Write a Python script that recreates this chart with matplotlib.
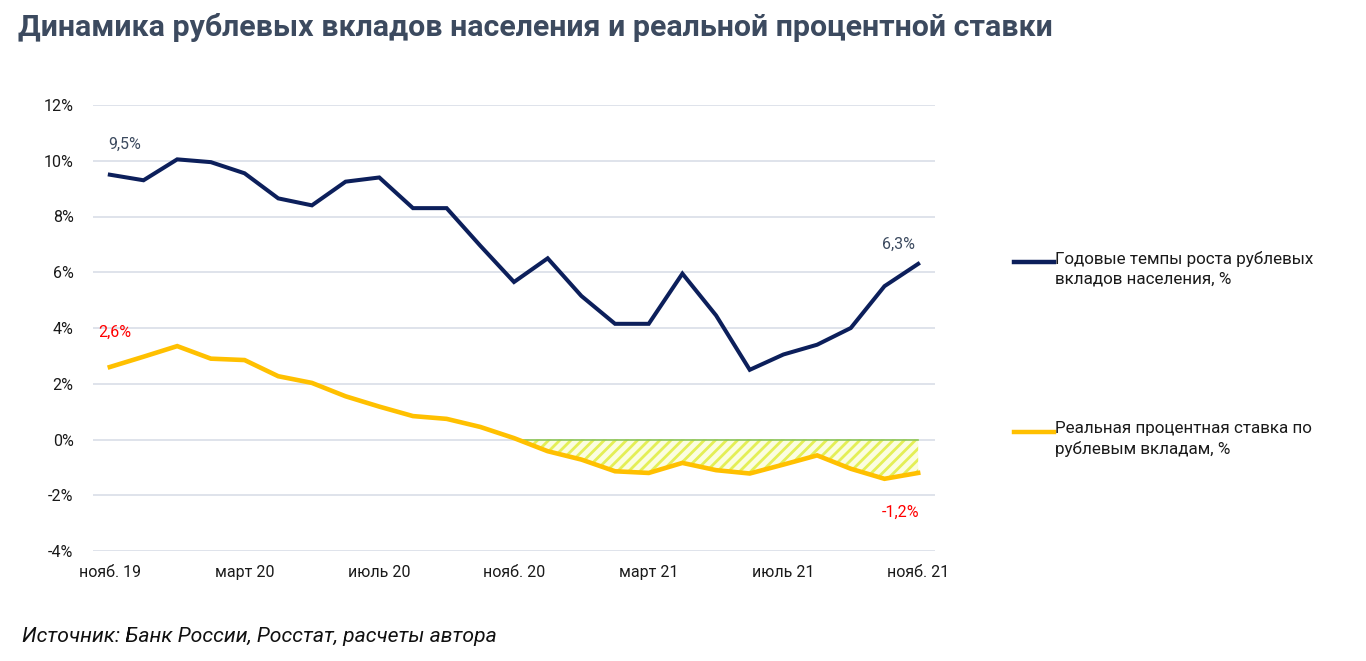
import matplotlib
matplotlib.use("Agg")
import matplotlib.pyplot as plt
from matplotlib.lines import Line2D
import matplotlib.patheffects as pe
import numpy as np

plt.rcParams['font.family'] = ['Roboto', 'DejaVu Sans']
plt.rcParams['hatch.linewidth'] = 2.0

months = ['нояб. 19', 'дек. 19', 'янв. 20', 'февр. 20', 'март 20', 'апр. 20', 'май 20',
          'июнь 20', 'июль 20', 'авг. 20', 'сент. 20', 'окт. 20', 'нояб. 20', 'дек. 20',
          'янв. 21', 'февр. 21', 'март 21', 'апр. 21', 'май 21', 'июнь 21', 'июль 21',
          'авг. 21', 'сент. 21', 'окт. 21', 'нояб. 21']
deposits_growth = [9.5, 9.3, 10.05, 9.95, 9.55, 8.65, 8.4, 9.25, 9.4, 8.3, 8.3, 6.95, 5.65,
                   6.5, 5.15, 4.15, 4.15, 5.95, 4.45, 2.5, 3.05, 3.4, 4.0, 5.5, 6.3]
real_rate = [2.6, 2.97, 3.35, 2.9, 2.85, 2.27, 2.03, 1.55, 1.18, 0.84, 0.74, 0.45, 0.05,
             -0.42, -0.72, -1.14, -1.2, -0.84, -1.1, -1.22, -0.9, -0.57, -1.05, -1.41, -1.2]
yticks = [-4, -2, 0, 2, 4, 6, 8, 10, 12]
xtick_idx = [0, 4, 8, 12, 16, 20, 24]

label_growth = 'Годовые темпы роста рублевых\nвкладов населения, %'
label_real = 'Реальная процентная ставка по\nрублевым вкладам, %'

NAVY = '#0c1f5b'
GOLD = '#ffc000'
SLATE = '#3c4a5f'
RED = '#ff0000'

fig = plt.figure(figsize=(13.66, 6.61), dpi=100)
ax = fig.add_axes([93 / 1366, 1 - 551 / 661, (935 - 93) / 1366, (551 - 105) / 661])

x = np.arange(len(months))
rr = np.array(real_rate)

ax.set_ylim(-4, 12)
ax.set_xlim(-0.5, 24.5)
ax.set_yticks(yticks)
ax.set_yticklabels([f'{v}%' for v in yticks])
ax.set_xticks(xtick_idx)
ax.set_xticklabels([months[i] for i in xtick_idx])
ax.grid(axis='y', color='#d9dee8', lw=1.2)
ax.set_axisbelow(True)
for s in ax.spines.values():
    s.set_visible(False)
ax.tick_params(length=0, labelsize=11.5, colors='#1a1a1a', pad=10)
ax.tick_params(axis='y', pad=14)

# hatched negative area
start = 12
fill_x = x[start:]
fill_y = np.minimum(rr[start:], 0)
ax.fill_between(fill_x, fill_y, 0, facecolor='#fbfde0', edgecolor='#e4ef55',
                hatch='///', linewidth=0, zorder=2)
ax.plot([start + 0.1, 24], [0, 0], color='#8bc45a', lw=1.2, zorder=2.5)

ax.plot(x, deposits_growth, color=NAVY, lw=2.9, zorder=4, solid_joinstyle='miter')
ax.plot(x, real_rate, color=GOLD, lw=3.3, zorder=4, solid_joinstyle='miter')

# annotations
ax.annotate('9,5%', (0, deposits_growth[0]), xytext=(15, 30), textcoords='offset pixels',
            ha='center', va='center', fontsize=11.5, color=SLATE)
ax.annotate('6,3%', (24, deposits_growth[-1]), xytext=(-20, 20), textcoords='offset pixels',
            ha='center', va='center', fontsize=11.5, color=SLATE)
ax.annotate('2,6%', (0, real_rate[0]), xytext=(5, 35), textcoords='offset pixels',
            ha='center', va='center', fontsize=11.5, color=RED)
ax.annotate('-1,2%', (24, real_rate[-1]), xytext=(-18, -39), textcoords='offset pixels',
            ha='center', va='center', fontsize=11.5, color=RED)

# legend (manual)
def fx(px):
    return px / 1366

def fy(py):
    return 1 - py / 661

for color, py, lab in [(NAVY, 262, label_growth), (GOLD, 432, label_real)]:
    fig.add_artist(Line2D([fx(1014), fx(1054)], [fy(py), fy(py)], color=color, lw=3.2,
                          transform=fig.transFigure))
    fig.text(fx(1055), fy(py - 11), lab, fontsize=12.25, color='#1a1a1a', va='top',
             ha='left', linespacing=1.38)

fig.text(fx(18), fy(28), 'Динамика рублевых вкладов населения и реальной процентной ставки',
         fontsize=21.9, fontweight='bold', color=SLATE, va='center', ha='left')
fig.text(fx(22), fy(637), 'Источник: Банк России, Росстат, расчеты автора',
         fontsize=15.2, style='italic', color='#111111', va='center', ha='left')

fig.savefig('out.png', dpi=100)
